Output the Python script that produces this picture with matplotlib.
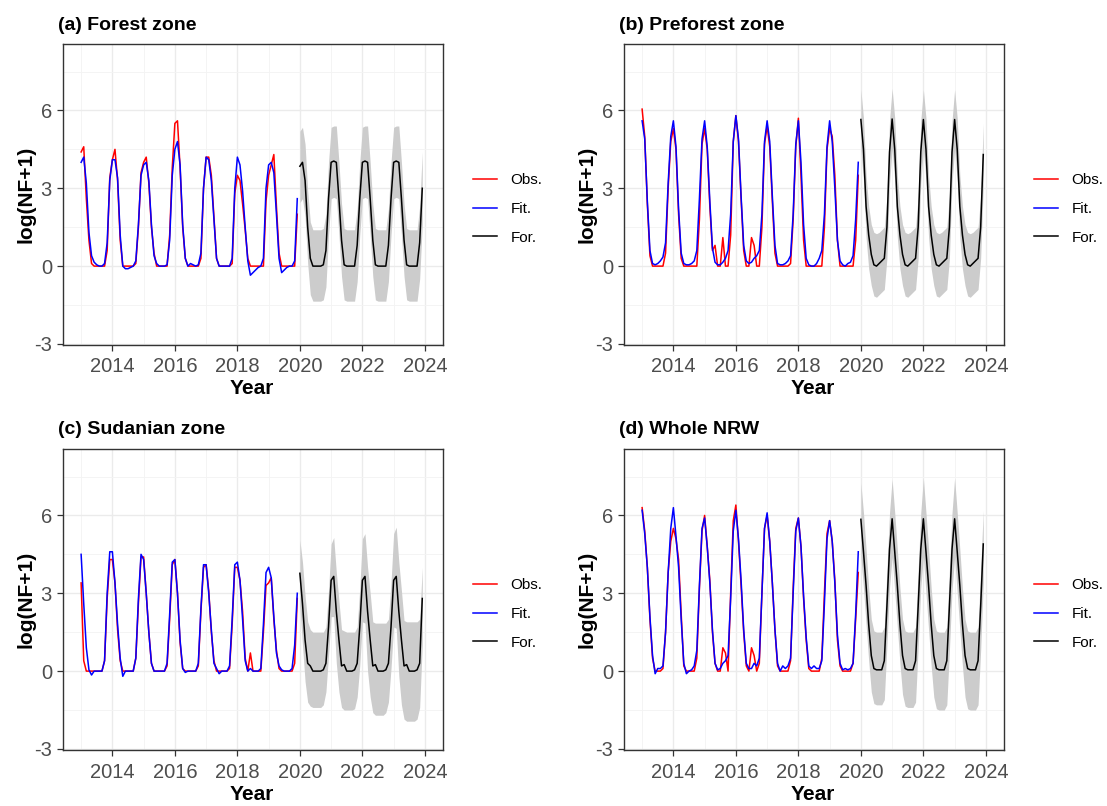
import numpy as np
import matplotlib
matplotlib.use('Agg')
import matplotlib.pyplot as plt
from matplotlib.lines import Line2D

plt.rcParams['font.family'] = ['Liberation Sans', 'DejaVu Sans']
plt.rcParams['axes.unicode_minus'] = False

# monthly values, Jan..Dec per row
# (a) Forest zone
forest_obs = [
    4.4, 4.6, 2.6, 1.0, 0.1, 0.0, 0.0, 0.0, 0.0, 0.0, 0.6, 3.4,
    4.1, 4.5, 3.3, 1.0, 0.0, 0.0, 0.0, 0.0, 0.0, 0.1, 1.5, 3.6,
    4.0, 4.2, 3.2, 1.5, 0.5, 0.0, 0.0, 0.0, 0.0, 0.0, 1.2, 3.8,
    5.5, 5.6, 3.8, 1.5, 0.3, 0.0, 0.0, 0.0, 0.0, 0.0, 0.3, 3.0,
    4.2, 4.2, 3.5, 1.9, 0.3, 0.0, 0.0, 0.0, 0.0, 0.0, 0.1, 2.8,
    3.5, 3.3, 2.4, 1.4, 0.3, 0.0, 0.0, 0.0, 0.0, 0.0, 0.0, 2.5,
    3.5, 3.9, 4.3, 2.3, 0.5, 0.0, 0.0, 0.0, 0.0, 0.0, 0.0, 2.0,
]
forest_fit = [
    4.0, 4.2, 3.2, 1.3, 0.4, 0.15, 0.05, 0.0, 0.0, 0.1, 0.9, 3.3,
    4.1, 4.1, 3.4, 1.2, 0.0, -0.1, -0.1, -0.05, 0.0, 0.2, 1.6, 3.5,
    3.9, 4.0, 3.3, 1.6, 0.4, 0.1, 0.0, 0.0, 0.0, 0.05, 1.0, 3.5,
    4.5, 4.8, 3.9, 1.6, 0.3, 0.0, 0.1, 0.05, 0.0, 0.05, 0.5, 3.0,
    4.2, 4.1, 3.3, 1.8, 0.3, 0.0, 0.0, 0.0, 0.0, 0.0, 0.3, 3.0,
    4.2, 3.9, 2.9, 1.5, 0.2, -0.35, -0.25, -0.15, -0.05, 0.0, 0.3, 3.0,
    3.9, 4.0, 3.6, 2.0, 0.3, -0.25, -0.15, -0.05, 0.0, 0.0, 0.2, 2.6,
]
forest_for = [
    3.85, 4.0, 3.3, 1.5, 0.3, 0.0, 0.0, 0.0, 0.0, 0.05, 0.6, 2.6,
    4.0, 4.05, 4.0, 2.6, 1.0, 0.05, 0.0, 0.0, 0.0, 0.0, 0.8, 2.6,
    4.0, 4.05, 4.0, 2.6, 1.0, 0.05, 0.0, 0.0, 0.0, 0.0, 0.8, 2.6,
    4.0, 4.05, 4.0, 2.6, 1.0, 0.05, 0.0, 0.0, 0.0, 0.0, 0.9, 3.0,
]
forest_hi = [
    5.2, 5.35, 4.7, 2.9, 1.7, 1.4, 1.4, 1.4, 1.4, 1.45, 2.0, 4.0,
    5.35, 5.4, 5.4, 4.0, 2.4, 1.45, 1.4, 1.4, 1.4, 1.4, 2.2, 4.0,
    5.35, 5.4, 5.4, 4.0, 2.4, 1.45, 1.4, 1.4, 1.4, 1.4, 2.2, 4.0,
    5.35, 5.4, 5.4, 4.0, 2.4, 1.45, 1.4, 1.4, 1.4, 1.4, 2.3, 4.4,
]
forest_lo = [
    2.45, 2.6, 1.9, 0.1, -1.1, -1.35, -1.35, -1.35, -1.35, -1.3, -0.8, 1.2,
    2.6, 2.65, 2.6, 1.2, -0.4, -1.3, -1.35, -1.35, -1.35, -1.35, -0.6, 1.2,
    2.6, 2.65, 2.6, 1.2, -0.4, -1.3, -1.35, -1.35, -1.35, -1.35, -0.6, 1.2,
    2.6, 2.65, 2.6, 1.2, -0.4, -1.3, -1.35, -1.35, -1.35, -1.35, -0.5, 1.6,
]

# (b) Preforest zone
preforest_obs = [
    6.05, 5.0, 2.4, 0.4, 0.0, 0.0, 0.0, 0.0, 0.0, 0.5, 3.0, 4.8,
    5.3, 4.5, 2.0, 0.3, 0.0, 0.0, 0.0, 0.0, 0.0, 0.0, 1.8, 4.7,
    5.3, 4.5, 2.3, 0.6, 0.8, 0.0, 0.0, 1.1, 0.0, 0.0, 1.2, 4.8,
    5.8, 4.8, 2.6, 0.6, 0.0, 0.0, 1.1, 0.8, 0.0, 0.0, 1.5, 4.7,
    5.4, 4.6, 2.5, 0.5, 0.0, 0.0, 0.0, 0.0, 0.0, 0.1, 1.8, 4.6,
    5.7, 3.5, 1.0, 0.0, 0.0, 0.0, 0.0, 0.0, 0.0, 0.0, 1.5, 4.5,
    5.3, 5.0, 3.5, 1.0, 0.0, 0.0, 0.0, 0.0, 0.0, 0.0, 1.0, 3.5,
]
preforest_fit = [
    5.6, 4.9, 2.5, 0.6, 0.1, 0.05, 0.1, 0.2, 0.35, 0.9, 3.2, 5.0,
    5.6, 4.6, 2.2, 0.5, 0.1, 0.05, 0.05, 0.1, 0.2, 0.6, 2.6, 4.9,
    5.6, 4.6, 2.5, 0.7, 0.15, 0.05, 0.05, 0.15, 0.3, 0.6, 2.0, 4.8,
    5.8, 4.9, 2.7, 0.8, 0.2, 0.1, 0.15, 0.3, 0.4, 0.6, 2.0, 4.8,
    5.6, 4.8, 2.7, 0.8, 0.1, 0.05, 0.05, 0.1, 0.2, 0.4, 2.0, 4.7,
    5.6, 4.0, 1.6, 0.3, 0.05, 0.0, 0.0, 0.1, 0.3, 0.6, 2.0, 4.6,
    5.6, 4.8, 3.0, 1.0, 0.2, 0.05, 0.0, 0.1, 0.15, 0.4, 1.8, 4.0,
]
preforest_for = [
    5.65, 4.5, 2.3, 1.2, 0.45, 0.05, 0.0, 0.1, 0.2, 0.3, 1.5, 4.4,
    5.67, 4.5, 2.3, 1.2, 0.45, 0.05, 0.0, 0.1, 0.2, 0.3, 1.5, 4.4,
    5.65, 4.5, 2.3, 1.2, 0.45, 0.05, 0.0, 0.1, 0.2, 0.3, 1.5, 4.4,
    5.65, 4.5, 2.3, 1.2, 0.45, 0.05, 0.0, 0.1, 0.2, 0.3, 1.5, 4.3,
]
preforest_hi = [
    6.8, 5.7, 3.5, 2.3, 1.6, 1.3, 1.25, 1.3, 1.4, 1.5, 2.7, 5.6,
    6.85, 5.7, 3.5, 2.3, 1.6, 1.3, 1.25, 1.3, 1.4, 1.5, 2.7, 5.6,
    6.8, 5.7, 3.5, 2.3, 1.6, 1.3, 1.25, 1.3, 1.4, 1.5, 2.7, 5.6,
    6.8, 5.7, 3.5, 2.3, 1.6, 1.3, 1.25, 1.3, 1.4, 1.5, 2.7, 5.5,
]
preforest_lo = [
    4.5, 3.3, 1.1, -0.1, -0.75, -1.15, -1.2, -1.1, -1.0, -0.9, 0.3, 3.2,
    4.5, 3.3, 1.1, -0.1, -0.75, -1.15, -1.2, -1.1, -1.0, -0.9, 0.3, 3.2,
    4.5, 3.3, 1.1, -0.1, -0.75, -1.15, -1.2, -1.1, -1.0, -0.9, 0.3, 3.2,
    4.5, 3.3, 1.1, -0.1, -0.75, -1.15, -1.2, -1.1, -1.0, -0.9, 0.3, 3.1,
]

# (c) Sudanian zone
sudan_obs = [
    3.4, 0.4, 0.0, 0.0, 0.0, 0.0, 0.0, 0.0, 0.0, 0.4, 2.8, 4.3,
    4.3, 3.4, 1.6, 0.4, 0.0, 0.0, 0.0, 0.0, 0.0, 0.5, 2.6, 4.4,
    4.4, 3.0, 1.5, 0.3, 0.0, 0.0, 0.0, 0.0, 0.0, 0.2, 2.0, 4.1,
    4.3, 3.0, 1.1, 0.1, 0.0, 0.0, 0.0, 0.0, 0.0, 0.2, 2.3, 4.0,
    4.1, 3.1, 1.5, 0.4, 0.0, 0.0, 0.0, 0.0, 0.0, 0.1, 1.8, 4.0,
    4.0, 3.5, 2.3, 0.5, 0.0, 0.7, 0.0, 0.0, 0.0, 0.0, 1.5, 3.3,
    3.4, 3.6, 2.0, 0.8, 0.1, 0.0, 0.0, 0.0, 0.0, 0.0, 0.3, 2.8,
]
sudan_fit = [
    4.5, 2.6, 0.9, 0.05, -0.15, 0.0, 0.0, 0.0, 0.0, 0.4, 3.0, 4.6,
    4.6, 3.4, 1.8, 0.5, -0.2, 0.0, 0.0, 0.0, 0.0, 0.5, 2.8, 4.5,
    4.3, 3.0, 1.5, 0.3, 0.0, 0.0, 0.0, 0.0, 0.0, 0.3, 2.2, 4.2,
    4.3, 3.0, 1.2, 0.1, -0.05, 0.0, 0.0, 0.0, 0.0, 0.3, 2.4, 4.1,
    4.1, 3.0, 1.6, 0.3, 0.1, -0.1, 0.0, 0.0, 0.0, 0.2, 2.0, 4.1,
    4.2, 3.5, 2.0, 0.4, 0.0, 0.1, 0.0, 0.0, 0.0, 0.1, 1.8, 3.8,
    4.0, 3.6, 2.1, 0.7, 0.2, 0.05, 0.0, 0.0, 0.0, 0.1, 1.0, 3.0,
]
sudan_for = [
    3.77, 2.6, 1.2, 0.3, 0.2, 0.0, 0.0, 0.0, 0.0, 0.05, 0.3, 1.7,
    3.5, 3.65, 2.3, 1.2, 0.2, 0.25, 0.0, 0.0, 0.0, 0.05, 0.3, 1.7,
    3.5, 3.65, 2.3, 1.2, 0.2, 0.25, 0.0, 0.0, 0.0, 0.05, 0.3, 1.7,
    3.5, 3.65, 2.3, 1.2, 0.2, 0.25, 0.0, 0.0, 0.0, 0.05, 0.3, 2.8,
]
sudan_hi = [
    5.05, 4.2, 2.9, 1.9, 1.6, 1.5, 1.5, 1.5, 1.5, 1.5, 1.7, 3.1,
    4.9, 5.15, 3.8, 2.7, 1.6, 1.55, 1.5, 1.5, 1.5, 1.5, 1.7, 3.2,
    5.1, 5.3, 4.0, 3.0, 1.9, 1.85, 1.85, 1.85, 1.85, 1.85, 2.0, 3.4,
    5.3, 5.55, 4.2, 3.1, 1.95, 1.9, 1.9, 1.9, 1.9, 1.9, 2.0, 4.0,
]
sudan_lo = [
    2.5, 1.0, -0.4, -1.2, -1.35, -1.4, -1.4, -1.4, -1.4, -1.3, -0.8, 0.6,
    2.1, 2.1, 0.3, -0.8, -1.4, -1.5, -1.5, -1.5, -1.5, -1.45, -1.0, 0.2,
    1.9, 1.85, 0.0, -1.0, -1.6, -1.7, -1.7, -1.7, -1.7, -1.6, -1.2, 0.1,
    1.7, 1.65, -0.2, -1.3, -1.85, -1.93, -1.93, -1.93, -1.93, -1.85, -1.4, 1.0,
]

# (d) Whole NRW
nrw_obs = [
    6.3, 5.4, 4.0, 2.0, 0.5, 0.0, 0.0, 0.0, 0.1, 1.5, 3.8, 5.0,
    5.5, 5.1, 4.3, 2.2, 0.2, 0.0, 0.0, 0.0, 0.0, 0.5, 3.2, 5.4,
    6.0, 4.8, 3.5, 1.5, 0.3, 0.0, 0.0, 0.9, 0.7, 0.0, 3.0, 5.8,
    6.4, 5.0, 3.3, 1.5, 0.2, 0.0, 0.9, 0.6, 0.0, 0.3, 3.0, 5.5,
    6.0, 5.0, 3.4, 1.6, 0.2, 0.0, 0.0, 0.0, 0.0, 0.4, 3.2, 5.5,
    5.9, 4.8, 2.8, 1.2, 0.1, 0.0, 0.0, 0.0, 0.0, 0.5, 3.0, 5.3,
    5.8, 5.0, 3.5, 1.2, 0.2, 0.0, 0.0, 0.0, 0.0, 0.3, 2.0, 3.8,
]
nrw_fit = [
    6.2, 5.3, 4.0, 2.1, 0.6, -0.1, 0.1, 0.1, 0.2, 1.5, 3.8, 5.5,
    6.3, 5.2, 4.0, 2.0, 0.3, -0.1, 0.0, 0.05, 0.2, 0.8, 3.3, 5.5,
    5.9, 4.8, 3.4, 1.6, 0.3, 0.05, 0.1, 0.3, 0.4, 0.6, 2.8, 5.4,
    6.2, 5.1, 3.5, 1.6, 0.3, 0.1, 0.1, 0.3, 0.2, 0.5, 3.0, 5.5,
    6.1, 5.0, 3.4, 1.6, 0.3, 0.0, 0.2, 0.1, 0.2, 0.5, 3.0, 5.4,
    5.9, 4.8, 2.9, 1.3, 0.2, 0.1, 0.2, 0.1, 0.1, 0.4, 2.6, 5.1,
    5.8, 5.0, 3.4, 1.4, 0.3, 0.05, 0.1, 0.05, 0.1, 0.3, 2.2, 4.6,
]
nrw_for = [
    5.85, 4.6, 3.3, 1.8, 0.6, 0.1, 0.05, 0.05, 0.05, 0.4, 2.5, 4.7,
    5.87, 4.6, 3.3, 1.8, 0.6, 0.1, 0.05, 0.05, 0.05, 0.4, 2.5, 4.7,
    5.87, 4.6, 3.3, 1.8, 0.6, 0.1, 0.05, 0.05, 0.05, 0.4, 2.5, 4.7,
    5.87, 4.6, 3.3, 1.8, 0.6, 0.1, 0.05, 0.05, 0.05, 0.4, 2.5, 4.9,
]
nrw_hi = [
    7.25, 6.1, 4.7, 3.2, 2.0, 1.55, 1.5, 1.5, 1.5, 1.7, 3.9, 6.1,
    7.4, 6.1, 4.7, 3.2, 2.0, 1.55, 1.5, 1.5, 1.5, 1.7, 3.9, 6.1,
    7.45, 6.1, 4.7, 3.2, 2.0, 1.55, 1.5, 1.5, 1.5, 1.7, 3.9, 6.1,
    7.45, 6.1, 4.7, 3.2, 2.0, 1.55, 1.5, 1.5, 1.5, 1.7, 3.9, 6.2,
]
nrw_lo = [
    4.4, 3.2, 1.8, 0.4, -0.8, -1.25, -1.3, -1.3, -1.3, -1.1, 1.0, 3.2,
    4.4, 3.1, 1.7, 0.3, -0.9, -1.35, -1.4, -1.4, -1.4, -1.2, 0.9, 3.2,
    4.4, 3.0, 1.6, 0.2, -1.0, -1.45, -1.5, -1.5, -1.5, -1.3, 0.8, 3.1,
    4.4, 3.0, 1.6, 0.2, -1.0, -1.45, -1.5, -1.5, -1.5, -1.3, 0.8, 3.4,
]

titles = ['(a) Forest zone', '(b) Preforest zone', '(c) Sudanian zone', '(d) Whole NRW']

t_fit = 2013 + np.arange(len(forest_obs)) / 12
t_for = 2020 + np.arange(len(forest_for)) / 12

W, H = 1107, 806
fig = plt.figure(figsize=(W / 100, H / 100), dpi=100)

# panel boxes in pixels: left, top
boxes = [(63, 44), (624, 44), (63, 449), (624, 449)]
pw, ph = 380, 301

series = [
    (forest_obs, forest_fit, forest_for, forest_lo, forest_hi),
    (preforest_obs, preforest_fit, preforest_for, preforest_lo, preforest_hi),
    (sudan_obs, sudan_fit, sudan_for, sudan_lo, sudan_hi),
    (nrw_obs, nrw_fit, nrw_for, nrw_lo, nrw_hi),
]

for (left, top), title, (obs, fit, fc, lo, hi) in zip(boxes, titles, series):
    ax = fig.add_axes([left / W, 1 - (top + ph) / H, pw / W, ph / H])
    ax.fill_between(t_for, lo, hi, color='#cccccc', lw=0)
    ax.plot(t_fit, obs, color='#ff0000', lw=1.1)
    ax.plot(t_fit, fit, color='#0000ff', lw=1.1)
    ax.plot(t_for, fc, color='black', lw=1.1)

    ax.set_xlim(2012.42, 2024.58)
    ax.set_ylim(-3.04, 8.56)
    ax.set_xticks([2014, 2016, 2018, 2020, 2022, 2024])
    ax.set_xticks([2013, 2015, 2017, 2019, 2021, 2023], minor=True)
    ax.set_yticks([-3, 0, 3, 6])
    ax.set_yticks([-1.5, 1.5, 4.5, 7.5], minor=True)
    ax.grid(which='major', color='#ebebeb', lw=1.0)
    ax.grid(which='minor', color='#f3f3f3', lw=0.6)
    ax.set_axisbelow(True)
    ax.tick_params(which='major', length=4, width=0.9, color='#333333',
                   labelsize=14.5, labelcolor='#4d4d4d')
    ax.tick_params(axis='x', pad=5)
    ax.tick_params(axis='y', pad=4)
    ax.tick_params(which='minor', length=0)
    for s in ax.spines.values():
        s.set_color('#333333')
        s.set_linewidth(1.0)

    ax.text(-5 / pw, 1 + 19 / ph, title, transform=ax.transAxes,
            fontsize=14, fontweight='bold', ha='left', va='center')
    ax.text(-37 / pw, 0.5, 'log(NF+1)', transform=ax.transAxes, rotation=90,
            fontsize=15, fontweight='bold', ha='center', va='center')
    ax.text(0.497, -44 / ph, 'Year', transform=ax.transAxes,
            fontsize=15, fontweight='bold', ha='center', va='center')

    handles = [Line2D([], [], color='#ff0000', lw=1.1),
               Line2D([], [], color='#0000ff', lw=1.1),
               Line2D([], [], color='black', lw=1.1)]
    ax.legend(handles, ['Obs.', 'Fit.', 'For.'], loc='center left',
              bbox_to_anchor=(1 + 30 / pw, 136 / ph), frameon=False,
              fontsize=11, borderpad=0, borderaxespad=0,
              handlelength=1.6, handletextpad=0.85, labelspacing=0.95)

fig.savefig('out.png', dpi=100)
